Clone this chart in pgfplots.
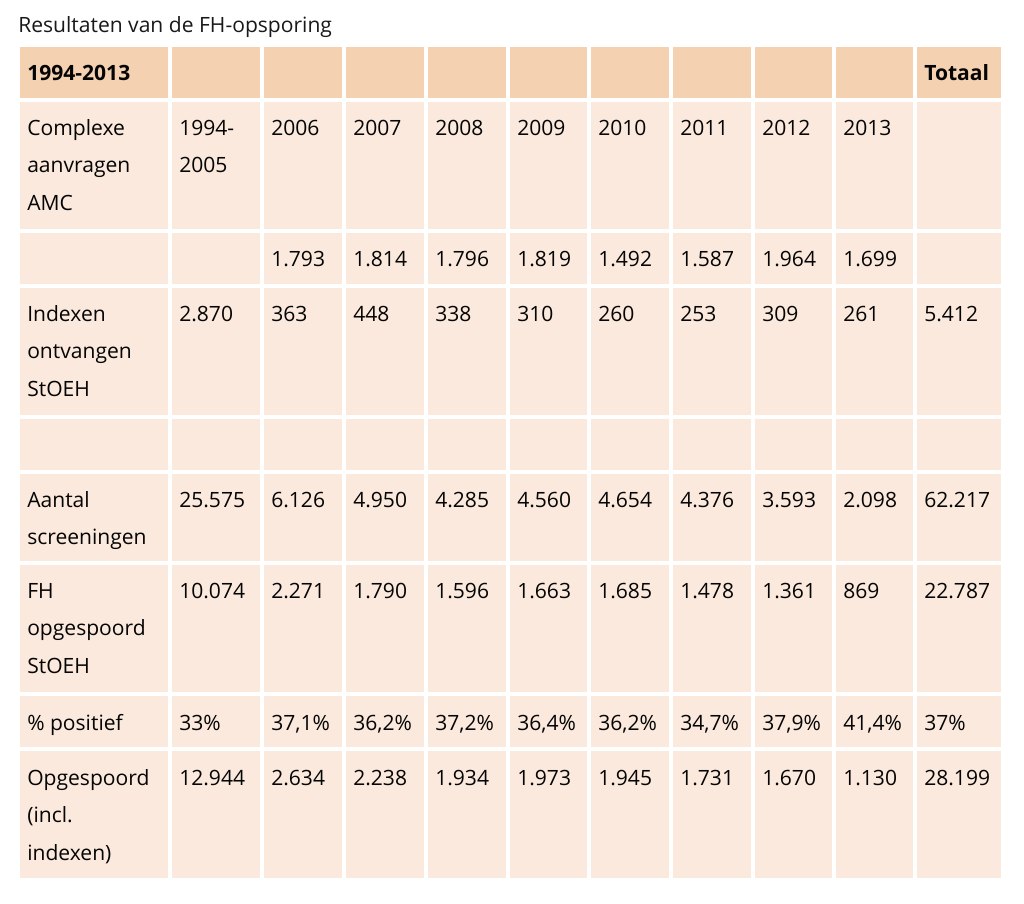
\documentclass[border=0pt]{standalone}
\usepackage{pgfplots}
\pgfplotsset{compat=1.18}
\usepackage{fontspec}
\setmainfont{Open Sans}
\definecolor{hdr}{RGB}{244,209,177}
\definecolor{bdy}{RGB}{250,233,220}
\definecolor{txt}{RGB}{5,5,5}
\definecolor{ttl}{RGB}{25,25,25}
\newcommand\fs{\fontsize{15.8pt}{28pt}\selectfont}
\newcommand\tx[3]{\node[anchor=base west,inner sep=0pt,text=txt,font=\fs] at (axis cs:#1,#2) {#3};}
\newcommand\tb[3]{\node[anchor=base west,inner sep=0pt,text=txt,font=\fs\bfseries] at (axis cs:#1,#2) {#3};}
\begin{document}
\begin{tikzpicture}
\begin{axis}[scale only axis, width=768pt, height=677.25pt,
  xmin=0, xmax=1024, ymin=0, ymax=903, y dir=reverse,
  axis lines=none, clip=false]
\path[draw=none,fill=white] (axis cs:0,0) rectangle (axis cs:1024,903);
% backgrounds
\fill[hdr] (axis cs:20,47) rectangle (axis cs:1001,98);
\fill[bdy] (axis cs:20,98) rectangle (axis cs:1001,878);
% white gaps
\draw[white, line width=3pt] (axis cs:20,100) -- (axis cs:1001,100);
\draw[white, line width=3pt] (axis cs:20,231) -- (axis cs:1001,231);
\draw[white, line width=3pt] (axis cs:20,286) -- (axis cs:1001,286);
\draw[white, line width=3pt] (axis cs:20,417) -- (axis cs:1001,417);
\draw[white, line width=3pt] (axis cs:20,472) -- (axis cs:1001,472);
\draw[white, line width=3pt] (axis cs:20,563) -- (axis cs:1001,563);
\draw[white, line width=3pt] (axis cs:20,694) -- (axis cs:1001,694);
\draw[white, line width=3pt] (axis cs:20,749) -- (axis cs:1001,749);
\draw[white, line width=3pt] (axis cs:170,47) -- (axis cs:170,878);
\draw[white, line width=3pt] (axis cs:262,47) -- (axis cs:262,878);
\draw[white, line width=3pt] (axis cs:344,47) -- (axis cs:344,878);
\draw[white, line width=3pt] (axis cs:426,47) -- (axis cs:426,878);
\draw[white, line width=3pt] (axis cs:508,47) -- (axis cs:508,878);
\draw[white, line width=3pt] (axis cs:589,47) -- (axis cs:589,878);
\draw[white, line width=3pt] (axis cs:671,47) -- (axis cs:671,878);
\draw[white, line width=3pt] (axis cs:753,47) -- (axis cs:753,878);
\draw[white, line width=3pt] (axis cs:834,47) -- (axis cs:834,878);
\draw[white, line width=3pt] (axis cs:915,47) -- (axis cs:915,878);
% title
\node[anchor=base west,inner sep=0pt,text=ttl,font=\fs] at (axis cs:18,32) {Resultaten van de FH-opsporing};
% header
\tb{27}{80}{1994-2013}
\tb{924}{80}{Totaal}
% row 1
\tx{27}{135}{Complexe}\tx{27}{172.5}{aanvragen}\tx{27}{210}{AMC}
\tx{179}{135}{1994-}\tx{179}{172.5}{2005}
\tx{271}{135}{2006}\tx{353}{135}{2007}\tx{435}{135}{2008}\tx{517}{135}{2009}
\tx{598}{135}{2010}\tx{680}{135}{2011}\tx{762}{135}{2012}\tx{843}{135}{2013}
% row 2
\tx{271}{266}{1.793}\tx{353}{266}{1.814}\tx{435}{266}{1.796}\tx{517}{266}{1.819}
\tx{598}{266}{1.492}\tx{680}{266}{1.587}\tx{762}{266}{1.964}\tx{843}{266}{1.699}
% row 3
\tx{27}{321}{Indexen}\tx{27}{358.5}{ontvangen}\tx{27}{396}{StOEH}
\tx{179}{321}{2.870}\tx{271}{321}{363}\tx{353}{321}{448}\tx{435}{321}{338}\tx{517}{321}{310}
\tx{598}{321}{260}\tx{680}{321}{253}\tx{762}{321}{309}\tx{843}{321}{261}\tx{924}{321}{5.412}
% row 5
\tx{27}{507}{Aantal}\tx{27}{544.5}{screeningen}
\tx{179}{507}{25.575}\tx{271}{507}{6.126}\tx{353}{507}{4.950}\tx{435}{507}{4.285}\tx{517}{507}{4.560}
\tx{598}{507}{4.654}\tx{680}{507}{4.376}\tx{762}{507}{3.593}\tx{843}{507}{2.098}\tx{924}{507}{62.217}
% row 6
\tx{27}{598}{FH}\tx{27}{635.5}{opgespoord}\tx{27}{673}{StOEH}
\tx{179}{598}{10.074}\tx{271}{598}{2.271}\tx{353}{598}{1.790}\tx{435}{598}{1.596}\tx{517}{598}{1.663}
\tx{598}{598}{1.685}\tx{680}{598}{1.478}\tx{762}{598}{1.361}\tx{843}{598}{869}\tx{924}{598}{22.787}
% row 7
\tx{27}{730}{\% positief}
\tx{179}{730}{33\%}\tx{271}{730}{37,1\%}\tx{353}{730}{36,2\%}\tx{435}{730}{37,2\%}\tx{517}{730}{36,4\%}
\tx{598}{730}{36,2\%}\tx{680}{730}{34,7\%}\tx{762}{730}{37,9\%}\tx{843}{730}{41,4\%}\tx{924}{730}{37\%}
% row 8
\tx{27}{785}{Opgespoord}\tx{27}{822.5}{(incl.}\tx{27}{860}{indexen)}
\tx{179}{785}{12.944}\tx{271}{785}{2.634}\tx{353}{785}{2.238}\tx{435}{785}{1.934}\tx{517}{785}{1.973}
\tx{598}{785}{1.945}\tx{680}{785}{1.731}\tx{762}{785}{1.670}\tx{843}{785}{1.130}\tx{924}{785}{28.199}
\end{axis}
\end{tikzpicture}
\end{document}
